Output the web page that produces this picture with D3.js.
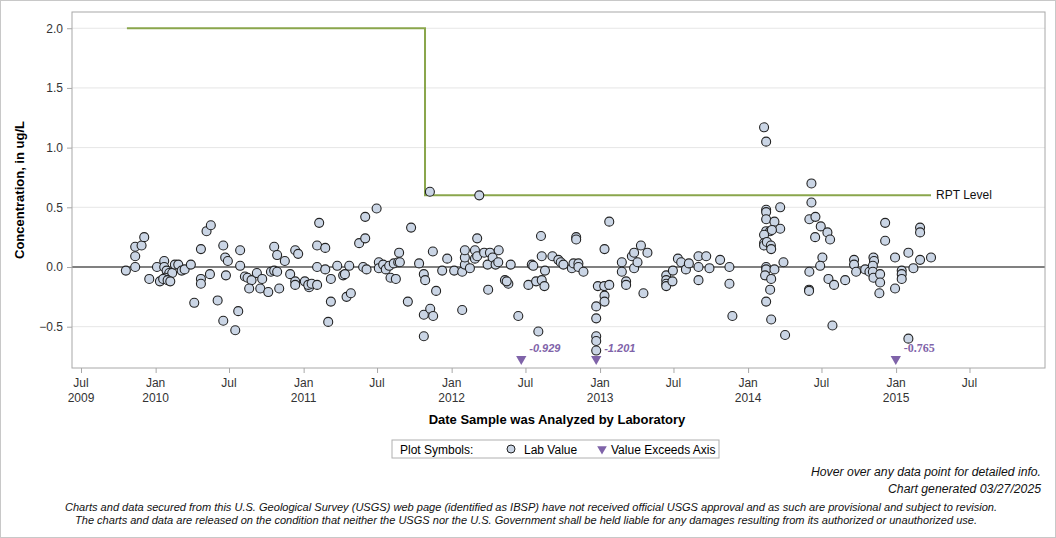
<!DOCTYPE html>
<html>
<head>
<meta charset="utf-8">
<script src="https://cdn.jsdelivr.net/npm/d3@7"></script>
<style>
body{margin:0;background:#fff;}
svg text{font-family:"Liberation Sans",Arial,sans-serif;}
</style>
</head>
<body>
<script>
// lab values: sample date (decimal year) and concentration (ug/L)
const sampleYears = [
 2009.799,2009.862,2009.862,2009.862,2009.905,2009.923,2009.957,2010.009,2010.058,2010.058,
 2010.074,2010.092,2010.112,2010.063,2010.029,2010.051,2010.081,2010.099,2010.130,2010.153,
 2010.176,2010.196,2010.238,2010.261,2010.306,2010.306,2010.306,2010.344,2010.373,2010.367,
 2010.419,2010.457,2010.470,2010.488,2010.475,2010.457,2010.538,2010.558,2010.571,2010.571,
 2010.603,2010.621,2010.648,2010.632,2010.684,2010.720,2010.707,2010.761,2010.779,2010.801,
 2010.821,2010.801,2010.821,2010.835,2010.873,2010.909,2010.943,2010.963,2010.943,2010.943,
 2011.008,2011.037,2011.031,2011.054,2011.091,2011.105,2011.091,2011.146,2011.091,2011.146,
 2011.184,2011.184,2011.166,2011.227,2011.267,2011.279,2011.308,2011.290,2011.319,2011.375,
 2011.416,2011.416,2011.493,2011.402,2011.425,2011.508,2011.508,2011.537,2011.555,2011.578,
 2011.587,2011.623,2011.609,2011.639,2011.645,2011.650,2011.704,2011.726,2011.780,2011.812,
 2011.821,2011.812,2011.812,2011.855,2011.875,2011.895,2011.873,2011.853,2012.186,2011.936,
 2011.970,2012.017,2012.071,2012.071,2012.089,2012.089,2012.089,2012.123,2012.157,2012.157,
 2012.172,2012.172,2012.219,2012.242,2012.246,2012.258,2012.276,2012.296,2012.317,2012.314,
 2012.398,2012.359,2012.382,2012.371,2012.449,2012.517,2012.540,2012.550,2012.569,2012.584,
 2012.602,2012.607,2012.607,2012.629,2012.625,2012.679,2012.719,2012.735,2012.753,2012.810,
 2012.821,2012.839,2012.839,2012.854,2012.854,2012.888,2012.974,2012.974,2012.974,2012.974,
 2012.974,2012.985,2013.030,2013.028,2013.030,2013.030,2013.062,2013.062,2013.147,2013.147,
 2013.176,2013.176,2013.215,2013.230,2013.230,2013.253,2013.276,2013.293,2013.320,2013.447,
 2013.447,2013.447,2013.447,2013.492,2013.489,2013.526,2013.548,2013.580,2013.600,2013.665,
 2013.665,2013.665,2013.717,2013.739,2013.811,2013.874,2013.874,2013.894,2014.108,2014.122,
 2014.122,2014.122,2014.122,2014.178,2014.217,2014.217,2014.122,2014.149,2014.161,2014.108,
 2014.108,2014.108,2014.127,2014.154,2014.156,2014.122,2014.122,2014.115,2014.156,2014.178,
 2014.239,2014.149,2014.122,2014.156,2014.250,2014.428,2014.428,2014.414,2014.455,2014.453,
 2014.491,2014.536,2014.554,2014.502,2014.487,2014.414,2014.412,2014.412,2014.543,2014.581,
 2014.656,2014.570,2014.716,2014.716,2014.730,2014.791,2014.820,2014.847,2014.851,2014.843,
 2014.843,2014.847,2014.892,2014.892,2014.887,2014.926,2014.926,2014.993,2014.993,2015.038,
 2015.038,2015.038,2015.083,2015.117,2015.083,2015.162,2015.162,2015.162,2015.236
];
const labValues = [
 -0.03,0.00,0.09,0.17,0.18,0.25,-0.10,0.00,0.05,0.00,
 -0.03,-0.05,-0.05,-0.09,-0.12,-0.10,-0.11,-0.12,0.02,0.02,
 -0.03,-0.02,0.02,-0.30,0.15,-0.10,-0.14,0.30,0.35,-0.06,
 -0.28,0.18,0.08,0.05,-0.07,-0.45,-0.53,-0.37,0.14,0.01,
 -0.08,-0.09,-0.11,-0.18,-0.05,-0.10,-0.18,-0.21,-0.04,-0.03,
 -0.04,0.17,0.10,-0.18,0.05,-0.06,0.14,0.11,-0.12,-0.15,
 -0.12,-0.17,-0.15,-0.14,-0.15,0.37,0.18,0.16,0.00,-0.02,
 -0.10,-0.29,-0.46,0.01,-0.07,-0.06,0.01,-0.25,-0.22,0.20,
 0.24,0.42,0.49,0.00,-0.02,0.04,-0.01,0.02,-0.02,0.01,
 -0.09,-0.10,0.03,0.04,0.12,0.04,-0.29,0.33,0.03,-0.06,
 -0.11,-0.40,-0.58,-0.35,-0.41,-0.20,0.13,0.63,0.60,-0.03,
 0.07,-0.03,-0.36,-0.04,0.02,0.08,0.14,-0.01,0.14,0.07,
 0.24,0.09,0.12,0.02,-0.19,0.12,0.08,0.02,0.14,0.04,
 0.02,-0.11,-0.14,-0.12,-0.41,-0.15,0.02,0.01,-0.12,-0.54,
 0.26,0.09,-0.11,-0.03,-0.16,0.09,0.06,0.04,0.02,-0.01,
 0.03,0.25,0.23,0.03,0.00,-0.04,-0.33,-0.43,-0.58,-0.62,
 -0.70,-0.16,0.15,-0.16,-0.24,-0.29,0.38,-0.15,0.04,-0.04,
 -0.12,-0.15,0.09,0.12,-0.01,0.04,0.18,-0.22,0.12,-0.07,
 -0.11,-0.14,-0.16,-0.03,-0.12,0.07,0.04,-0.02,0.03,0.09,
 0.00,-0.11,0.09,-0.01,0.06,0.00,-0.14,-0.41,1.17,1.05,
 0.48,0.46,0.40,0.38,0.50,0.32,0.30,0.30,0.31,0.27,
 0.20,0.18,0.21,0.18,0.15,0.00,-0.02,-0.07,-0.10,-0.02,
 0.04,-0.19,-0.29,-0.44,-0.57,0.70,0.54,0.40,0.42,0.25,
 0.34,0.29,0.23,0.08,0.01,-0.04,-0.19,-0.20,-0.10,-0.15,
 -0.11,-0.49,0.06,0.02,-0.04,-0.02,-0.04,0.08,0.05,0.01,
 -0.04,-0.09,-0.06,-0.13,-0.22,0.37,0.22,0.08,-0.18,-0.03,
 -0.06,-0.10,0.12,-0.01,-0.60,0.33,0.29,0.06,0.08
];

// values below the axis minimum
const exceedYears = [2012.469, 2012.974, 2014.998];
const exceedValues = [-0.929, -1.201, -0.765];

// reporting level (step)
const rptYears = [2009.806, 2011.820, 2015.236];
const rptValues = [2.0, 0.6, 0.6];

const yTicks = [-0.5, 0.0, 0.5, 1.0, 1.5, 2.0];
const yDomain = [-0.846, 2.136];
const xDomainYears = [2009.435, 2016.006];

const width = 1056, height = 538;
const margin = {top: 12, right: 11, bottom: 170, left: 72};
const plotW = width - margin.left - margin.right,
      plotH = height - margin.top - margin.bottom;

function toDate(y){ // decimal year -> Date
  const yr = Math.floor(y);
  const s = new Date(yr,0,1), e = new Date(yr+1,0,1);
  return new Date(s.getTime() + (y-yr)*(e-s));
}

const svg = d3.select('body').append('svg')
  .attr('width', width).attr('height', height);

svg.append('rect').attr('x',0.5).attr('y',0.5)
  .attr('width',width-1).attr('height',height-1)
  .attr('fill','#fff').attr('stroke','#c8c8c8');

const g = svg.append('g').attr('transform', `translate(${margin.left},${margin.top})`);

const x = d3.scaleTime().domain(xDomainYears.map(toDate)).range([0, plotW]);
const y = d3.scaleLinear().domain(yDomain).range([plotH, 0]);

// grid
g.selectAll('.grid').data(yTicks.filter(d => d !== 0)).enter()
  .append('line')
  .attr('x1',0).attr('x2',plotW)
  .attr('y1',d => y(d)).attr('y2',d => y(d))
  .attr('stroke','#e6e6e6');

g.append('line')
  .attr('x1',0).attr('x2',plotW)
  .attr('y1',y(0)).attr('y2',y(0))
  .attr('stroke','#808080').attr('stroke-width',2);

// frame
g.append('rect').attr('x',0).attr('y',0).attr('width',plotW).attr('height',plotH)
  .attr('fill','none').attr('stroke','#a8a8a8');

// y axis
const yAxis = g.append('g')
  .call(d3.axisLeft(y).tickValues(yTicks).tickSize(5).tickPadding(4).tickFormat(d3.format('.1f')));
yAxis.select('.domain').remove();
yAxis.selectAll('line').attr('stroke','#a8a8a8');
yAxis.selectAll('text').attr('font-size',12).attr('fill','#333')
  .style('font-family','"Liberation Sans",Arial,sans-serif');

// x axis
const xTicks = d3.timeMonth.every(6).range(toDate(2009.4), toDate(2015.9));
const xAxis = g.append('g').attr('transform', `translate(0,${plotH})`)
  .call(d3.axisBottom(x).tickValues(xTicks).tickSize(5).tickFormat(''));
xAxis.select('.domain').remove();
xAxis.selectAll('line').attr('stroke','#a8a8a8');
const fmtMon = d3.timeFormat('%b'), fmtYr = d3.timeFormat('%Y');
xTicks.forEach((d,i) => {
  const t = g.append('text').attr('x', x(d)).attr('y', plotH + 19)
    .attr('text-anchor','middle').attr('font-size',12).attr('fill','#333');
  t.append('tspan').attr('x', x(d)).text(fmtMon(d));
  if (d.getMonth() === 0 || i === 0)
    t.append('tspan').attr('x', x(d)).attr('dy',15).text(fmtYr(d));
});

// RPT level
const rpt = rptYears.map((d,i) => [toDate(d), rptValues[i]]);
g.append('path').datum(rpt)
  .attr('d', d3.line().x(d => x(d[0])).y(d => y(d[1])).curve(d3.curveStepAfter))
  .attr('fill','none').attr('stroke','#8aa64c').attr('stroke-width',2);
g.append('text')
  .attr('x', x(toDate(rptYears[2])) + 5).attr('y', y(rptValues[2]) + 4)
  .attr('font-size',12).attr('fill','#111').text('RPT Level');

// lab values
g.selectAll('circle.pt').data(sampleYears.map((d,i) => [toDate(d), labValues[i]]))
  .enter().append('circle')
  .attr('cx', d => x(d[0])).attr('cy', d => y(d[1]))
  .attr('r',4.5).attr('fill','#cad5e5').attr('stroke','#222').attr('stroke-width',1.1);

// exceeds axis markers
const tri = d3.symbol().type(d3.symbolTriangle).size(46);
exceedYears.forEach((d,i) => {
  const cx = x(toDate(d)), cy = plotH - 9;
  g.append('path').attr('d', tri())
    .attr('transform', `translate(${cx},${cy}) rotate(180)`)
    .attr('fill','#7f63a9');
  const lab = g.append('text').attr('x', cx + 8).attr('y', cy - 7)
    .attr('fill','#7f63a9').attr('font-weight','bold')
    .text(exceedValues[i].toFixed(3));
  if (i < 2) lab.attr('font-size',11).attr('font-style','italic');
  else lab.attr('font-size',12).style('font-family','"Liberation Serif","Times New Roman",serif');
});

// axis titles
svg.append('text')
  .attr('transform', `translate(24,${margin.top + plotH/2}) rotate(-90)`)
  .attr('text-anchor','middle').attr('font-size',13).attr('font-weight','bold')
  .text('Concentration, in ug/L');
svg.append('text')
  .attr('x', 557).attr('y', 424)
  .attr('text-anchor','middle').attr('font-size',13).attr('font-weight','bold')
  .text('Date Sample was Analyzed by Laboratory');

// legend
const lg = svg.append('g').attr('transform','translate(392,440)');
lg.append('rect').attr('width',327).attr('height',18)
  .attr('fill','#fff').attr('stroke','#b0b0b0');
lg.append('text').attr('x',8).attr('y',14).attr('font-size',12).text('Plot Symbols:');
lg.append('circle').attr('cx',119).attr('cy',9).attr('r',4)
  .attr('fill','#cad5e5').attr('stroke','#222');
lg.append('text').attr('x',132).attr('y',14).attr('font-size',12).text('Lab Value');
lg.append('path').attr('d', tri.size(40)())
  .attr('transform','translate(210,9) rotate(180)').attr('fill','#7f63a9');
lg.append('text').attr('x',219).attr('y',14).attr('font-size',12).text('Value Exceeds Axis');

// footer notes
const notes = [
  {t:'Hover over any data point for detailed info.', x:1041, y:476, a:'end', w:230, s:12},
  {t:'Chart generated 03/27/2025', x:1041, y:493, a:'end', w:153, s:12},
  {t:'Charts and data secured from this U.S. Geological Survey (USGS) web page (identified as IBSP) have not received official USGS approval and as such are provisional and subject to revision.', x:65, y:511, a:'start', w:932, s:11},
  {t:'The charts and data are released on the condition that neither the USGS nor the U.S. Government shall be held liable for any damages resulting from its authorized or unauthorized use.', x:75, y:524, a:'start', w:902, s:11}
];
notes.forEach(n => {
  svg.append('text').attr('x', n.x).attr('y', n.y).attr('text-anchor', n.a)
    .attr('font-size', n.s).attr('font-style','italic').attr('fill','#111')
    .attr('textLength', n.w).attr('lengthAdjust','spacingAndGlyphs')
    .style('font-family','"Liberation Sans Narrow","Liberation Sans",Arial,sans-serif')
    .text(n.t);
});
</script>
</body>
</html>
